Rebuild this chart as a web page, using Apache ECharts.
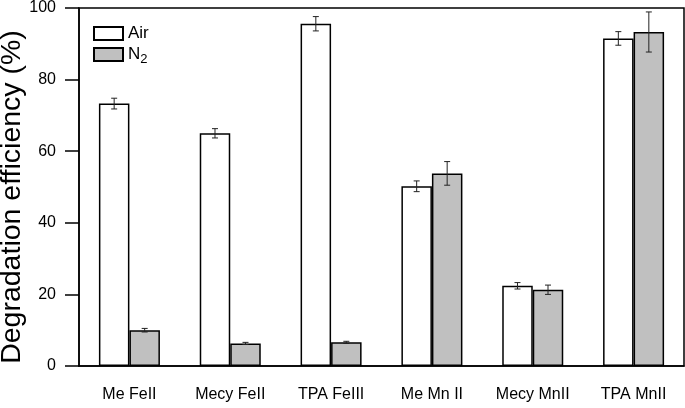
<!DOCTYPE html>
<html>
<head>
<meta charset="utf-8">
<script src="https://cdn.jsdelivr.net/npm/echarts@6/dist/echarts.min.js"></script>
<style>html,body{margin:0;padding:0;background:#fff}#c{width:685px;height:408px}</style>
</head>
<body>
<div id="c"></div>
<script>
const categories = ['Me FeII', 'Mecy FeII', 'TPA FeIII', 'Me Mn II', 'Mecy MnII', 'TPA MnII'];
const airValues = [73.3, 65.0, 95.6, 50.2, 22.4, 91.5];
const airErrors = [1.5, 1.3, 2.0, 1.5, 0.9, 1.9];
const n2Values = [10.0, 6.3, 6.6, 53.8, 21.3, 93.3];
const n2Errors = [0.5, 0.3, 0.3, 3.3, 1.3, 5.6];
const yTicks = [0, 20, 40, 60, 80, 100];

const GAP = 0.395;
function errSeries(values, errors, side) {
  return {
    type: 'custom',
    silent: true,
    z: 10,
    data: values.map((v, i) => [i, v - errors[i], v + errors[i]]),
    encode: { x: 0, y: [1, 2] },
    renderItem: function (params, api) {
      const band = api.size([1, 0])[0];
      const bw = band * (1 - GAP) / 2;
      const c = api.coord([api.value(0), api.value(1)]);
      const h = api.coord([api.value(0), api.value(2)]);
      const x = c[0] + side * bw / 2;
      const cap = 3;
      const st = { stroke: '#222', lineWidth: 1 };
      return {
        type: 'group',
        children: [
          { type: 'line', shape: { x1: x, y1: c[1], x2: x, y2: h[1] }, style: st },
          { type: 'line', shape: { x1: x - cap, y1: c[1], x2: x + cap, y2: c[1] }, style: st },
          { type: 'line', shape: { x1: x - cap, y1: h[1], x2: x + cap, y2: h[1] }, style: st }
        ]
      };
    }
  };
}

const chart = echarts.init(document.getElementById('c'));
chart.setOption({
  animation: false,
  grid: { left: 79, right: 1, top: 7, bottom: 42, show: true, borderColor: '#000', borderWidth: 1.5 },
  legend: {
    data: ['Air', 'N2'],
    orient: 'vertical',
    left: 88, top: 20,
    itemWidth: 29, itemHeight: 13, itemGap: 4,
    icon: 'rect',
    textStyle: {
      fontFamily: 'Liberation Sans', fontSize: 17, color: '#000',
      rich: {
        n: { fontFamily: 'Liberation Sans', fontSize: 17, color: '#000' },
        s: { fontFamily: 'Liberation Sans', fontSize: 13, color: '#000', padding: [9, 0, 0, 0] }
      }
    },
    formatter: function (name) { return name === 'N2' ? '{n|N}{s|2}' : '{n|' + name + '}'; }
  },
  xAxis: {
    type: 'category',
    data: categories,
    axisLine: { lineStyle: { color: '#000', width: 1.5 } },
    axisTick: { alignWithLabel: true, length: 14, lineStyle: { color: '#000', width: 1.5 } },
    axisLabel: { fontFamily: 'Liberation Sans', fontSize: 16, color: '#000', margin: 21 }
  },
  yAxis: {
    type: 'value',
    min: yTicks[0], max: yTicks[yTicks.length - 1], interval: 20,
    axisLine: { show: true, lineStyle: { color: '#000', width: 1.5 } },
    axisTick: { show: true, length: 14, lineStyle: { color: '#000', width: 1.5 } },
    splitLine: { show: false },
    axisLabel: { fontFamily: 'Liberation Sans', fontSize: 16, color: '#000', margin: 23 }
  },
  graphic: [{
    type: 'text',
    x: 12, y: 197,
    rotation: Math.PI / 2,
    style: {
      text: 'Degradation efficiency (%)',
      fontFamily: 'Liberation Sans', fontSize: 28.5, fill: '#000',
      align: 'center', verticalAlign: 'middle'
    }
  }],
  series: [
    {
      name: 'Air', type: 'bar', data: airValues,
      barGap: '0%', barCategoryGap: (GAP * 100) + '%',
      itemStyle: { color: '#ffffff', borderColor: '#000', borderWidth: 1.5 }
    },
    {
      name: 'N2', type: 'bar', data: n2Values,
      barGap: '0%', barCategoryGap: (GAP * 100) + '%',
      itemStyle: { color: '#c0c0c0', borderColor: '#000', borderWidth: 1.5 }
    },
    errSeries(airValues, airErrors, -1),
    errSeries(n2Values, n2Errors, 1)
  ]
});
</script>
</body>
</html>
